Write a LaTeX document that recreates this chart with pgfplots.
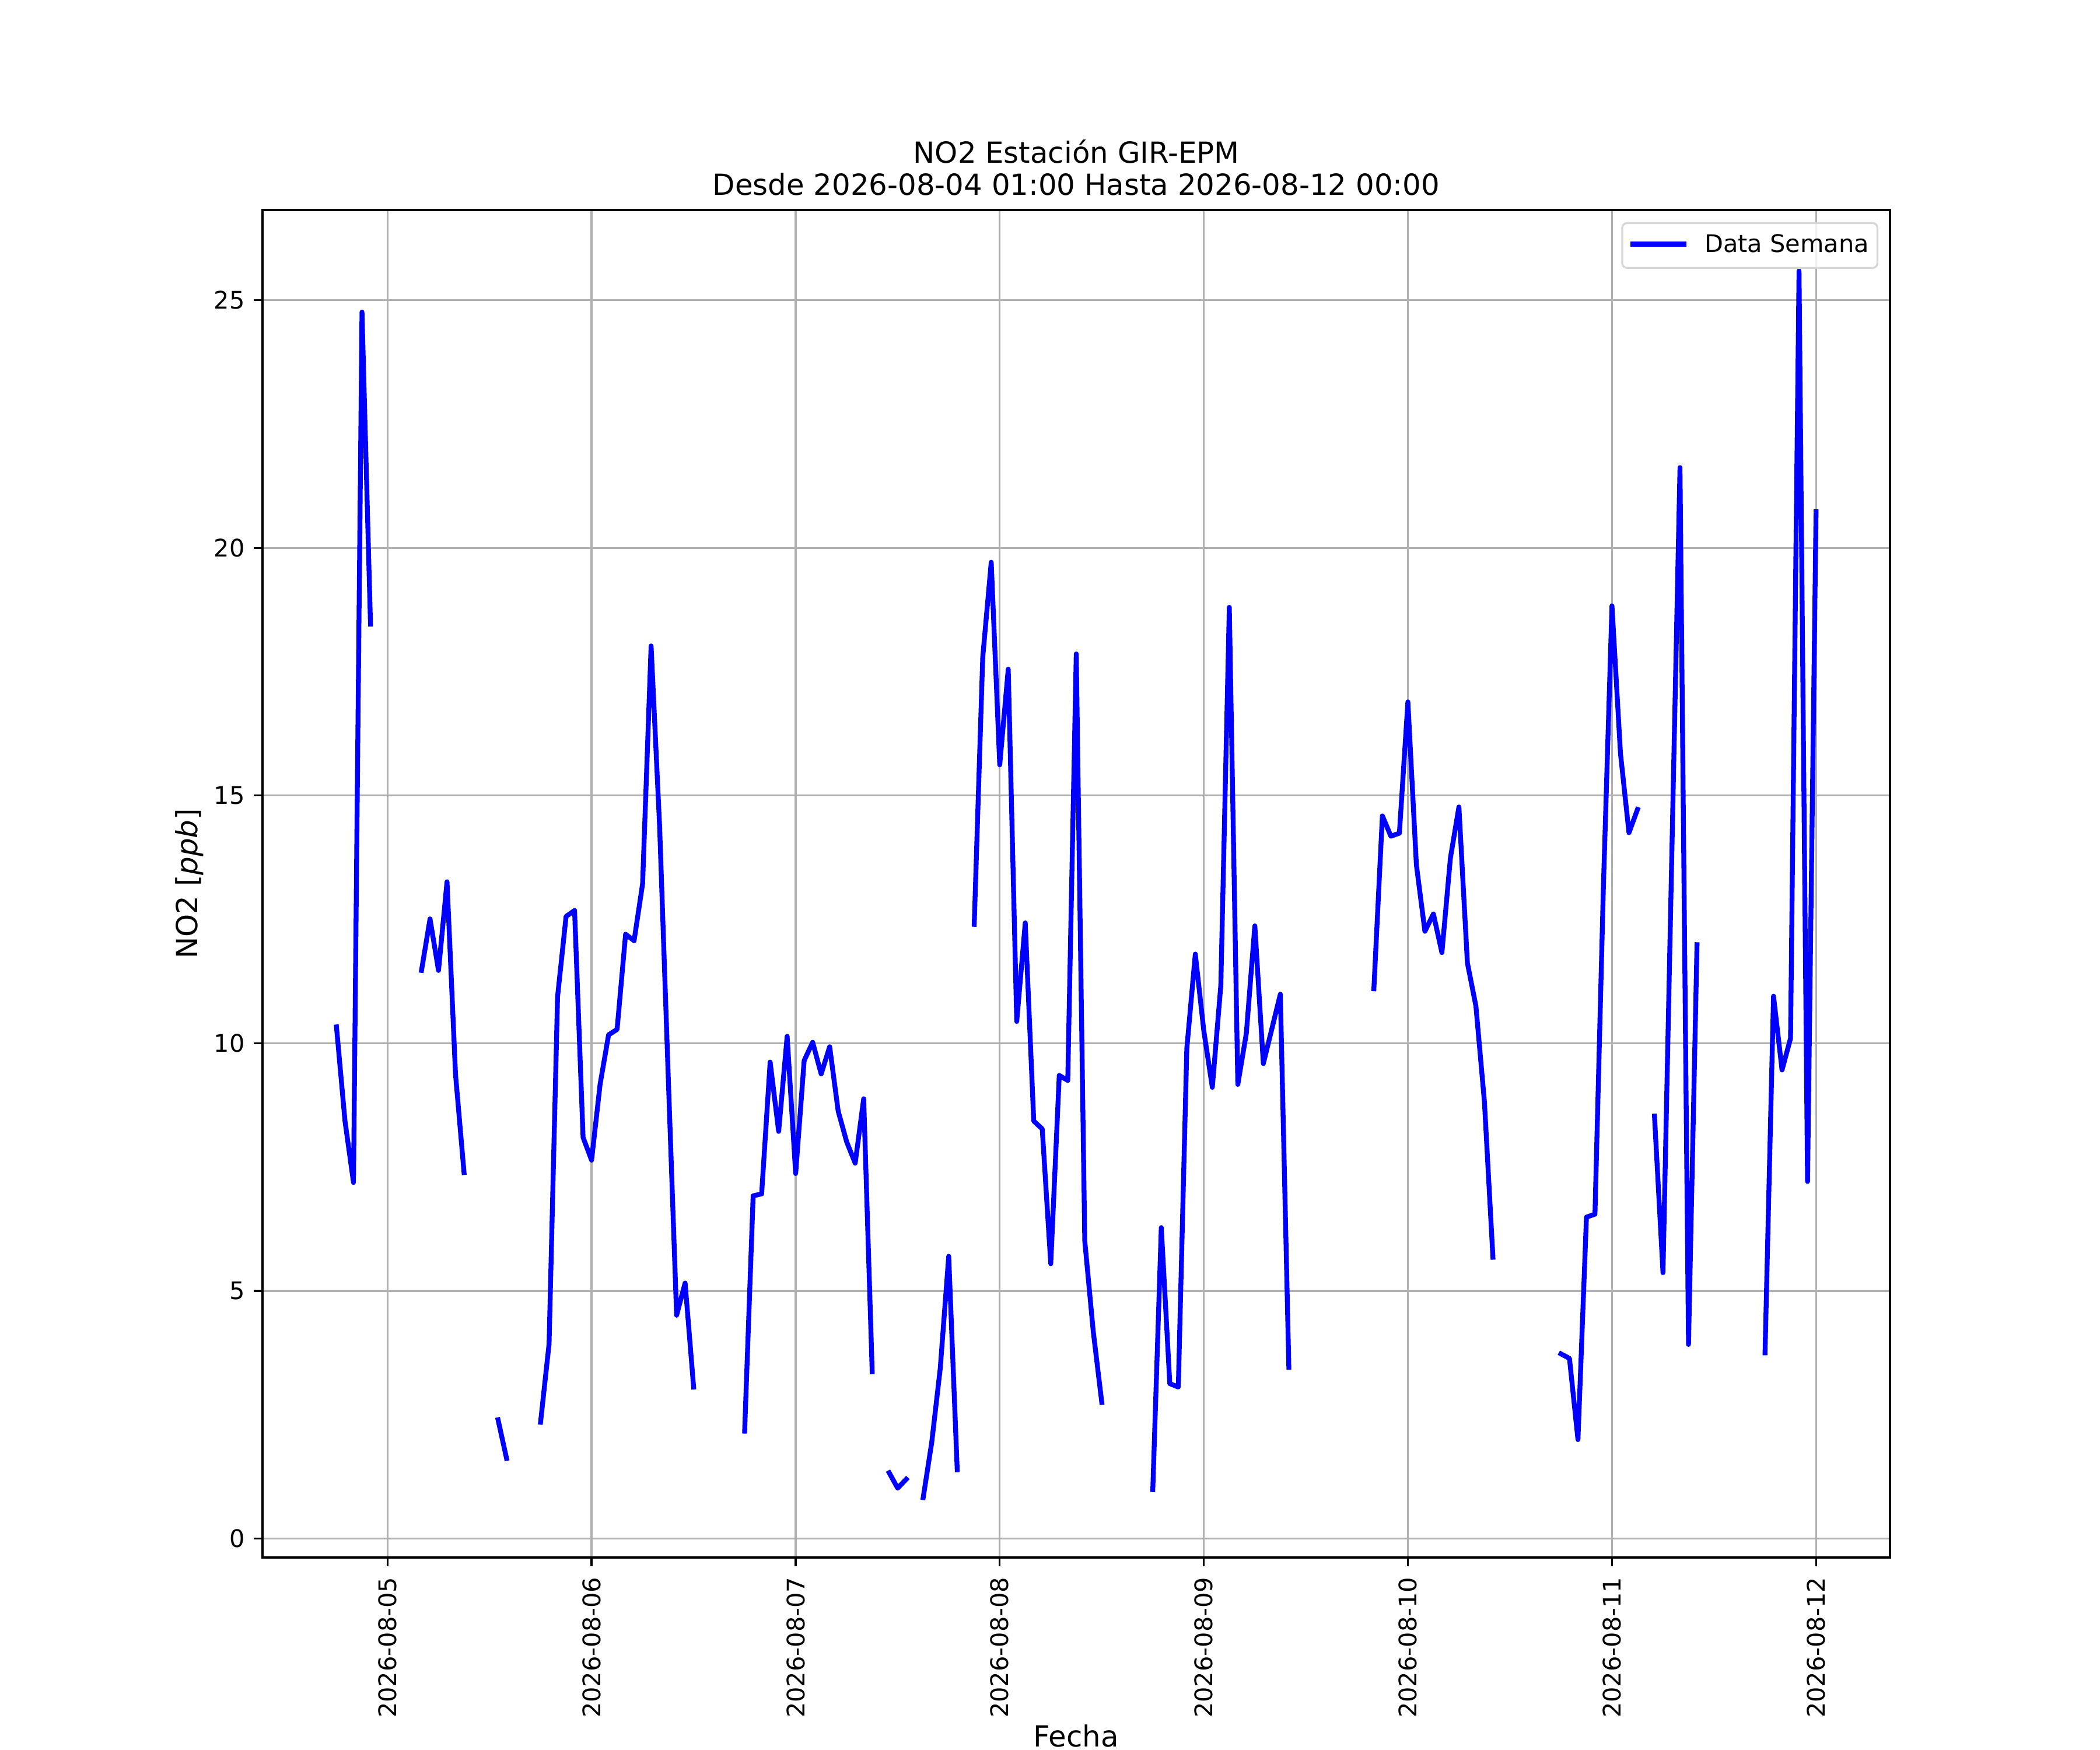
\documentclass[border=0pt]{standalone}
\usepackage{pgfplots}
\pgfplotsset{compat=1.18}
\usepackage{fontspec}
\setmainfont{DejaVu Sans}
\definecolor{gridgray}{HTML}{B0B0B0}
\definecolor{legedge}{HTML}{D6D6D6}
\begin{document}
\begin{tikzpicture}
\useasboundingbox (0,0) rectangle (12in,10in);
\begin{axis}[
  at={(1.5in,1.1in)}, anchor=south west,
  scale only axis, width=9.3in, height=7.7in,
  xmin=9.3, xmax=200.7, ymin=-0.38, ymax=26.82,
  xtick={24,48,72,96,120,144,168,192},
  xticklabels={2026-08-05,2026-08-06,2026-08-07,2026-08-08,2026-08-09,2026-08-10,2026-08-11,2026-08-12},
  ytick={0,5,10,15,20,25},
  /pgf/number format/assume math mode=true,
  tick label style={font=\fontsize{10}{12}\selectfont},
  xticklabel style={rotate=90, anchor=east, inner sep=0pt},
  yticklabel style={anchor=east, inner sep=0pt},
  xticklabel shift=4.4pt, yticklabel shift=3.6pt,
  tick align=outside, major tick length=3.5pt,
  xtick pos=bottom, ytick pos=left,
  tick style={black, line width=0.8pt},
  axis line style={black, line width=0.8pt},
  grid=major, major grid style={gridgray, line width=0.8pt},
  unbounded coords=jump,
  legend style={at={(1,1)}, anchor=north east, xshift=-4.8pt, yshift=-5pt,
    draw=legedge, line width=0.8pt, rounded corners=2pt, fill=white, fill opacity=0.8, text opacity=1, draw opacity=1,
    inner xsep=3.5pt, inner ysep=0pt,
    nodes={inner sep=0pt, text height=12.1pt, text depth=6.45pt},
    font=\fontsize{10}{12}\selectfont},
  legend image code/.code={\path[draw=none, fill=none] (0pt,-6pt) rectangle (29.5pt,6pt); \draw[#1] (0pt,0.6pt) -- (21pt,0.6pt);},
]
\addplot[blue, line width=2pt, line join=round, line cap=rect] table[row sep=\\] {
x y\\
18 10.33\\ 19 8.43\\ 20 7.19\\ 21 24.76\\ 22 18.46\\
23 nan\\
28 11.47\\ 29 12.51\\ 30 11.47\\ 31 13.26\\ 32 9.37\\ 33 7.39\\
34 nan\\
37 2.40\\ 38 1.62\\
39 nan\\
42 2.35\\ 43 3.93\\ 44 10.94\\ 45 12.56\\ 46 12.68\\ 47 8.10\\ 48 7.64\\ 49 9.17\\ 50 10.17\\ 51 10.28\\ 52 12.20\\ 53 12.07\\ 54 13.22\\ 55 18.02\\ 56 14.38\\ 57 9.4\\ 58 4.51\\ 59 5.16\\ 60 3.06\\
61 nan\\
66 2.17\\ 67 6.92\\ 68 6.96\\ 69 9.62\\ 70 8.22\\ 71 10.14\\ 72 7.37\\ 73 9.65\\ 74 10.02\\ 75 9.38\\ 76 9.93\\ 77 8.63\\ 78 8.01\\ 79 7.58\\ 80 8.88\\ 81 3.37\\
82 nan\\
83 1.33\\ 84 1.02\\ 85 1.20\\
86 nan\\
87 0.83\\ 88 1.94\\ 89 3.43\\ 90 5.70\\ 91 1.39\\
92 nan\\
93 12.40\\ 94 17.79\\ 95 19.71\\ 96 15.62\\ 97 17.55\\ 98 10.44\\ 99 12.43\\ 100 8.43\\ 101 8.27\\ 102 5.55\\ 103 9.35\\ 104 9.25\\ 105 17.86\\ 106 6.01\\ 107 4.18\\ 108 2.75\\
109 nan\\
114 0.99\\ 115 6.28\\ 116 3.13\\ 117 3.06\\ 118 9.89\\ 119 11.80\\ 120 10.25\\ 121 9.11\\ 122 11.17\\ 123 18.80\\ 124 9.17\\ 125 10.20\\ 126 12.37\\ 127 9.59\\ 128 10.29\\ 129 10.99\\ 130 3.46\\
131 nan\\
140 11.10\\ 141 14.59\\ 142 14.18\\ 143 14.24\\ 144 16.89\\ 145 13.60\\ 146 12.26\\ 147 12.61\\ 148 11.83\\ 149 13.74\\ 150 14.77\\ 151 11.62\\ 152 10.75\\ 153 8.82\\ 154 5.68\\
155 nan\\
162 3.73\\ 163 3.64\\ 164 2.00\\ 165 6.49\\ 166 6.55\\ 167 13.2\\ 168 18.83\\ 169 15.85\\ 170 14.25\\ 171 14.72\\
172 nan\\
173 8.53\\ 174 5.37\\ 175 13.5\\ 176 21.62\\ 177 3.92\\ 178 11.99\\
179 nan\\
186 3.75\\ 187 10.95\\ 188 9.46\\ 189 10.10\\ 190 25.59\\ 191 7.21\\ 192 20.73\\
};
\addlegendentry{Data Semana}
\end{axis}
\node[anchor=base, inner sep=0pt, font=\fontsize{12}{14}\selectfont] at (6.15in,8.8in) [yshift=6.2pt] {Desde 2026-08-04 01:00 Hasta 2026-08-12 00:00};
\node[anchor=base, inner sep=0pt, font=\fontsize{12}{14}\selectfont] at (6.15in,8.8in) [yshift=19.4pt] {NO2 Estación GIR-EPM};
\node[anchor=base, inner sep=0pt, rotate=90, font=\fontsize{12}{14}\selectfont] at (1.1267in,4.95in) {NO2 [\textit{ppb}]};
\node[anchor=base, inner sep=0pt, font=\fontsize{12}{14}\selectfont] at (6.15in,0.02in) {Fecha};
\end{tikzpicture}
\end{document}
